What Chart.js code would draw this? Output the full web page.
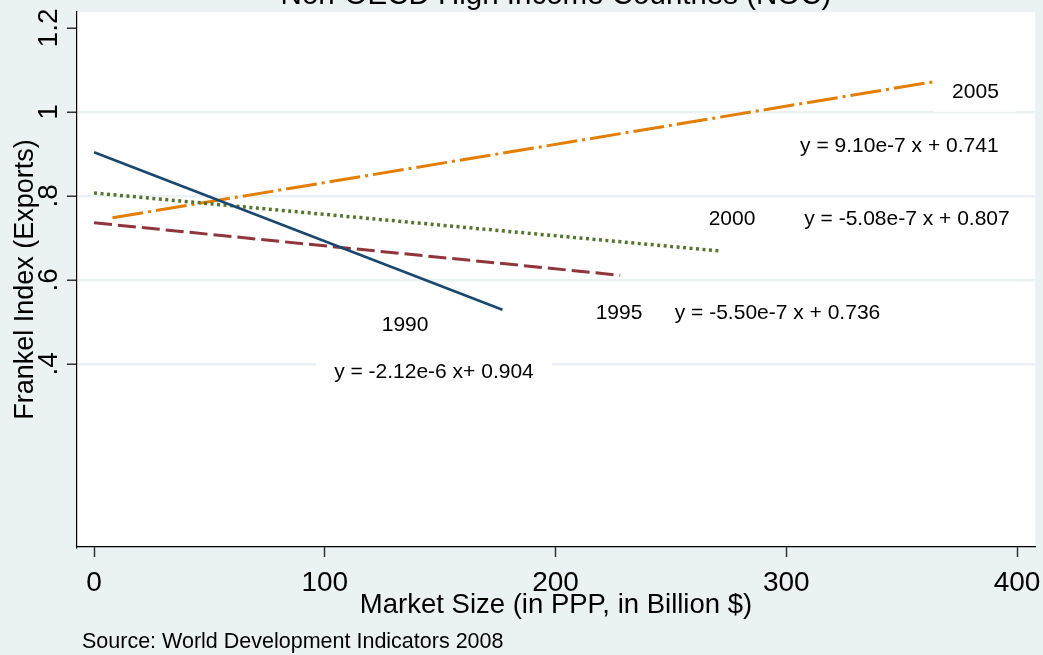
<!DOCTYPE html>
<html>
<head>
<meta charset="utf-8">
<title>Non-OECD High Income Countries (NOC)</title>
<script src="https://cdn.jsdelivr.net/npm/chart.js"></script>
<style>
  html, body { margin: 0; padding: 0; background: #eaf2f3; }
  canvas { display: block; }
</style>
</head>
<body>
<canvas id="myChart" width="1043" height="655"></canvas>
<script>
// Fitted lines, one per year (end points)
const x1990 = [0, 177];
const y1990 = [0.904, 0.529];
const x1995 = [0, 228];
const y1995 = [0.736, 0.611];
const x2000 = [0, 271];
const y2000 = [0.807, 0.669];
const x2005 = [8, 364];
const y2005 = [0.748, 1.072];

// Axis ticks
const xTicks = [0, 100, 200, 300, 400];
const xTickLabels = ['0', '100', '200', '300', '400'];
const yTicks = [0.4, 0.6, 0.8, 1, 1.2];
const yTickLabels = ['.4', '.6', '.8', '1', '1.2'];

// Text notes placed in data units
const noteTexts = ['2005', 'y = 9.10e-7 x + 0.741', '2000', 'y = -5.08e-7 x + 0.807',
                   '1995', 'y = -5.50e-7 x + 0.736', '1990', 'y = -2.12e-6 x+ 0.904'];
const noteX = [382, 349, 276.5, 352.3, 227.5, 296.2, 134.8, 147.3];
const noteY = [1.048, 0.919, 0.745, 0.745, 0.521, 0.521, 0.493, 0.380];

const chartTitle = 'Non-OECD High Income Countries (NOC)';
const xTitle = 'Market Size (in PPP, in Billion $)';
const yTitle = 'Frankel Index (Exports)';
const sourceNote = 'Source: World Development Indicators 2008';

const FONT = '"Liberation Sans", Arial, sans-serif';
const BG = '#eaf2f3';

function points(xs, ys) {
    return xs.map((v, i) => ({ x: v, y: ys[i] }));
}

// Stata-like background, notes and axis text
const stataLook = {
    id: 'stataLook',
    beforeDraw(chart) {
        const { ctx, chartArea: a } = chart;
        ctx.save();
        ctx.fillStyle = BG;
        ctx.fillRect(0, 0, chart.width, chart.height);
        ctx.fillStyle = '#ffffff';
        ctx.fillRect(a.left, a.top, a.right - a.left, a.bottom - a.top);
        ctx.restore();
    },
    afterDatasetsDraw(chart) {
        const { ctx, scales: { x, y } } = chart;
        ctx.save();
        ctx.font = '21px ' + FONT;
        ctx.textAlign = 'center';
        ctx.textBaseline = 'middle';
        noteTexts.forEach((t, i) => {
            const px = x.getPixelForValue(noteX[i]);
            const py = y.getPixelForValue(noteY[i]);
            const w = ctx.measureText(t).width + 36;
            ctx.fillStyle = '#ffffff';
            ctx.fillRect(px - w / 2, py - 20, w, 40);
            ctx.fillStyle = '#000000';
            ctx.fillText(t, px, py);
        });
        ctx.restore();
    },
    afterDraw(chart) {
        const { ctx, chartArea: a, scales: { x, y } } = chart;
        const midX = (a.left + a.right) / 2;
        ctx.save();
        ctx.fillStyle = '#000000';
        ctx.textBaseline = 'alphabetic';

        // title, mostly cut off by the top edge
        ctx.font = '29.5px ' + FONT;
        ctx.textAlign = 'center';
        ctx.fillText(chartTitle, midX, 4);

        // x tick labels
        ctx.font = '28px ' + FONT;
        xTicks.forEach((v, i) => {
            ctx.fillText(xTickLabels[i], x.getPixelForValue(v), a.bottom + 44);
        });

        // y tick labels, turned
        yTicks.forEach((v, i) => {
            ctx.save();
            ctx.translate(a.left - 20, y.getPixelForValue(v));
            ctx.rotate(-Math.PI / 2);
            ctx.fillText(yTickLabels[i], 0, 0);
            ctx.restore();
        });

        // axis titles
        ctx.font = '27.5px ' + FONT;
        ctx.fillText(xTitle, midX, 613);
        ctx.save();
        ctx.translate(33, (a.top + a.bottom) / 2);
        ctx.rotate(-Math.PI / 2);
        ctx.font = '27px ' + FONT;
        ctx.fillText(yTitle, 0, 0);
        ctx.restore();

        // source note
        ctx.font = '21.5px ' + FONT;
        ctx.textAlign = 'left';
        ctx.fillText(sourceNote, 82, 648);
        ctx.restore();
    }
};

const ctx = document.getElementById('myChart').getContext('2d');

let myChart = new Chart(ctx, {
    type: 'line',
    data: {
        datasets: [
            { label: '1990', data: points(x1990, y1990), borderColor: '#1a476f', borderWidth: 2.5 },
            { label: '1995', data: points(x1995, y1995), borderColor: '#90353b', borderWidth: 3, borderDash: [18, 6] },
            { label: '2000', data: points(x2000, y2000), borderColor: '#55752f', borderWidth: 3.5, borderDash: [3, 3.5] },
            { label: '2005', data: points(x2005, y2005), borderColor: '#e37e00', borderWidth: 3, borderDash: [31, 5, 3, 5] }
        ]
    },
    options: {
        responsive: false,
        devicePixelRatio: 1,
        animation: false,
        layout: { padding: { left: 67, right: 8, top: 12, bottom: 98 } },
        elements: { point: { radius: 0 }, line: { tension: 0, fill: false } },
        scales: {
            x: {
                type: 'linear',
                min: -7.4,
                max: 407.8,
                afterBuildTicks: (scale) => { scale.ticks = xTicks.map(v => ({ value: v })); },
                ticks: { display: false },
                grid: { drawOnChartArea: false, drawTicks: true, tickLength: 10, tickColor: '#333333', tickWidth: 1.5 },
                border: { color: '#000000', width: 1.2 }
            },
            y: {
                type: 'linear',
                min: -0.036,
                max: 1.238,
                afterBuildTicks: (scale) => { scale.ticks = yTicks.map(v => ({ value: v })); },
                ticks: { display: false },
                grid: {
                    color: (c) => (c.tick && c.tick.value === 1.2) ? 'rgba(0,0,0,0)' : BG,
                    lineWidth: 2.5,
                    drawTicks: true,
                    tickLength: 10,
                    tickColor: '#333333',
                    tickWidth: 1.5
                },
                border: { color: '#000000', width: 1.2 }
            }
        },
        plugins: {
            legend: { display: false },
            tooltip: { enabled: false }
        }
    },
    plugins: [stataLook]
});
</script>
</body>
</html>
